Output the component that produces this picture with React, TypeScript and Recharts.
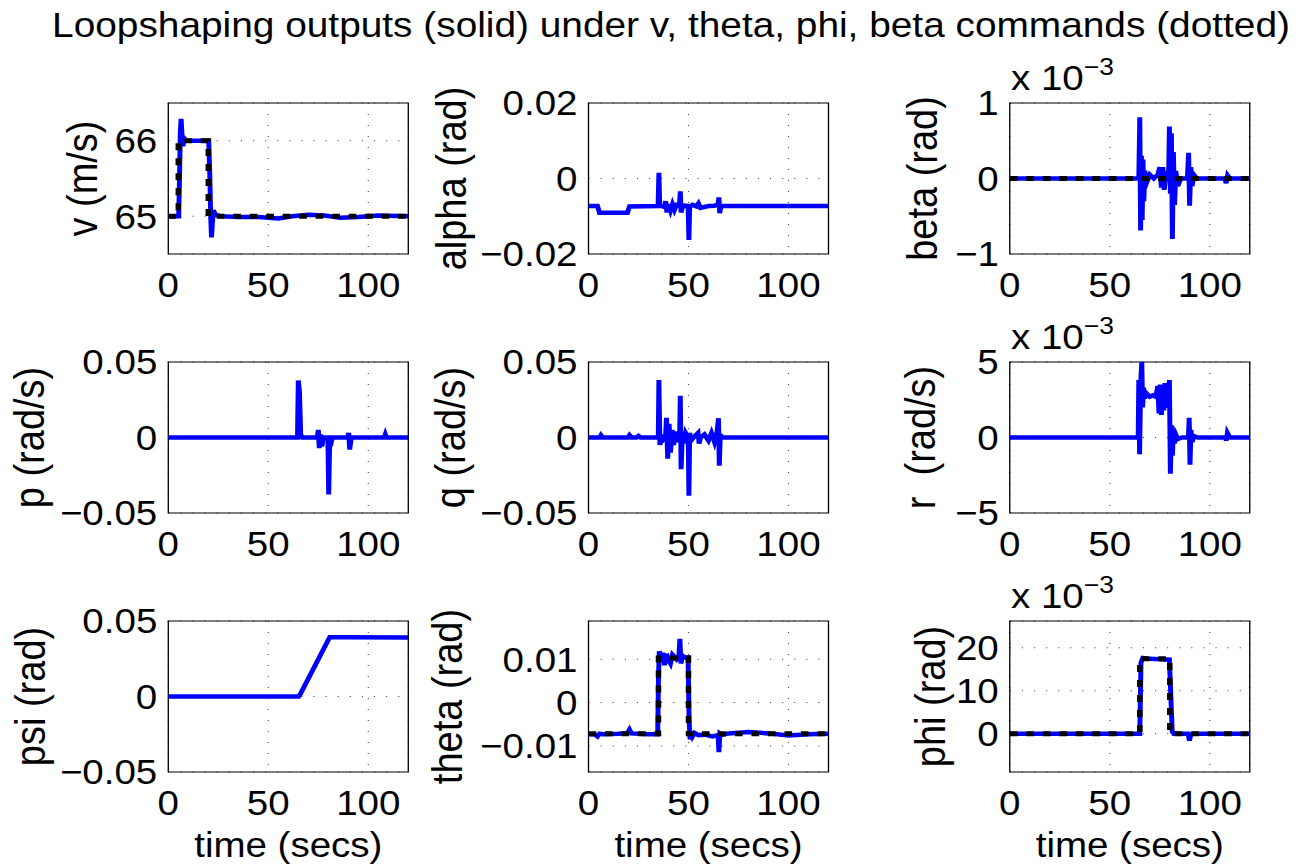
import { LineChart, Line, XAxis, YAxis, CartesianGrid, ReferenceArea } from 'recharts';

// time axis (secs)
const timeTicks = [0, 50, 100];

// v (m/s)
const vT = [0, 5.2, 5.6, 6.0, 6.4, 6.8, 7.3, 8.0, 9, 12, 16, 20.2, 20.7, 21.2, 21.6, 22.0, 22.6, 23.5, 26, 35, 45, 55, 62, 70, 78, 86, 95, 105, 120];
const vOut = [65, 65, 65.5, 66.1, 66.29, 66.1, 65.93, 66.03, 66.0, 66.0, 66.0, 66.0, 65.6, 65.0, 64.72, 64.9, 65.08, 65.02, 65.0, 64.99, 64.99, 64.97, 65.0, 65.02, 65.01, 64.98, 64.99, 65.01, 65.0];
const vCmdT = [0, 5, 5, 20, 20, 120];
const vCmd = [65, 65, 66, 66, 65, 65];

// alpha (rad)
const alphaT = [0, 4.5, 5.5, 19.5, 20.5, 34.8, 35.2, 35.6, 36.5, 38, 38.6, 39.2, 40, 41, 42, 43, 44, 45.5, 45.9, 46.3, 47, 48, 49.8, 50.2, 50.6, 52, 54, 55, 56, 60, 63, 64.8, 65.2, 65.6, 66.2, 70, 120];
const alphaOut = [-0.0073, -0.0073, -0.0091, -0.0091, -0.0074, -0.0073, 0.0015, -0.0072, -0.0073, -0.0075, -0.006, -0.009, -0.0068, -0.0085, -0.0068, -0.0083, -0.007, -0.0072, -0.0034, -0.009, -0.0075, -0.0072, -0.0073, -0.0163, -0.0075, -0.007, -0.0074, -0.0066, -0.0078, -0.0073, -0.0072, -0.0068, -0.005, -0.0092, -0.0073, -0.0073, -0.0073];

// beta (x 10^-3 rad)
const betaT = [0, 64.5, 65.0, 65.4, 65.8, 66.2, 66.6, 67.0, 67.5, 68.5, 70, 72, 74, 75, 75.8, 76.5, 77.2, 78, 79.4, 79.8, 80.3, 80.8, 81.3, 81.8, 82.4, 83, 84, 85.5, 88.8, 89.4, 89.9, 90.5, 91.2, 92, 93.5, 107.5, 108.2, 108.9, 110, 120];
const betaOut = [0, 0, 0.81, -0.69, 0.3, -0.55, 0.25, -0.3, 0.1, -0.05, 0.05, 0, 0.05, 0.15, -0.12, 0.15, -0.15, 0.05, 0, 0.69, -0.2, 0.6, -0.8, 0.35, -0.35, 0.1, -0.1, 0, 0, 0.34, -0.36, 0.15, -0.1, 0.05, 0, 0, -0.06, 0.04, 0, 0];
const betaCmdT = [0, 120];
const betaCmd = [0, 0];

// p (rad/s)
const pT = [0, 64.6, 65.0, 65.6, 66.2, 67, 74.5, 75, 75.5, 76.2, 76.8, 77.5, 79.8, 80.2, 80.7, 81.5, 82, 89.8, 90.2, 90.7, 91.5, 108, 108.5, 109, 120];
const pOut = [0, 0, 0.0377, 0.03, 0.002, 0, 0, 0.005, -0.007, 0.002, -0.006, 0, 0, -0.0378, -0.002, -0.003, 0, 0, 0.003, -0.008, 0, 0, 0.002, 0, 0];

// q (rad/s)
const qT = [0, 5.5, 6.2, 7, 19.8, 20.5, 21.5, 24, 25, 26, 34.9, 35.2, 35.7, 36.3, 37, 38.5, 39, 39.6, 40.3, 41, 41.8, 42.6, 43.4, 44.5, 45.6, 45.9, 46.3, 47, 47.8, 48.6, 49.9, 50.2, 50.6, 51.3, 52.5, 54.8, 55.3, 56, 58, 60, 61.5, 63, 64.3, 65.0, 65.4, 65.9, 66.6, 70, 120];
const qOut = [0, 0, 0.0015, 0, 0, 0.0015, 0, 0, 0.001, 0, 0, 0.038, -0.005, 0.002, -0.002, 0, 0.013, -0.014, 0.009, -0.01, 0.005, -0.005, 0.004, -0.003, 0.002, 0.0277, -0.021, 0.004, -0.004, 0.003, 0, -0.0385, 0.003, -0.002, 0, 0.003, -0.004, 0, 0.002, -0.002, 0.003, -0.003, 0.004, 0.0128, -0.0187, 0.002, 0, 0, 0];

// r (x 10^-3 rad/s)
const rT = [0, 64.2, 64.5, 64.9, 65.4, 66.0, 66.4, 66.9, 67.5, 68.5, 70, 71.5, 73, 74, 74.6, 75.2, 75.8, 76.4, 77, 77.6, 78.2, 79, 79.8, 80.3, 80.8, 81.3, 81.8, 82.3, 83, 84, 86, 89.3, 89.7, 90.1, 90.6, 91.2, 92, 94, 107.8, 108.3, 108.8, 110, 120];
const rOut = [0, 0, 3.8, -1.1, 3.5, 5.0, 2.0, 3.3, 2.6, 2.9, 2.7, 2.8, 2.7, 3.4, 1.6, 3.5, 1.5, 3.2, 1.8, 3.6, 2.2, 2.0, 3.8, -2.4, 0.8, -1.2, 0.5, -0.4, 0.2, -0.1, 0, 0, 1.3, -1.8, 0.5, -0.3, 0.1, 0, 0, -0.2, 0.3, 0, 0];

// psi (rad)
const psiT = [0, 65.2, 66, 80.2, 80.7, 90, 120];
const psiOut = [0, 0, 0.0015, 0.038, 0.0392, 0.0392, 0.0391];

// theta (rad)
const thetaT = [0, 3, 4.5, 5.5, 7, 15, 19.5, 20.5, 21.5, 30, 34.6, 35.0, 35.4, 36.5, 37.2, 38, 39, 40, 41, 42, 43, 44, 45.2, 45.7, 46.2, 47, 48, 49.8, 50.3, 50.8, 51.3, 52, 53, 55, 58, 62, 64.8, 65.2, 65.7, 66.5, 70, 80, 90, 100, 110, 120];
const thetaOut = [-0.0073, -0.0073, -0.0078, -0.0072, -0.0073, -0.0072, -0.007, -0.0062, -0.0071, -0.0073, -0.0073, 0.006, 0.0118, 0.01, 0.0115, 0.0086, 0.0112, 0.0098, 0.009, 0.011, 0.0105, 0.01, 0.0108, 0.0147, 0.009, 0.0108, 0.0104, 0.0104, -0.004, -0.0085, -0.0068, -0.0078, -0.007, -0.0075, -0.0074, -0.0078, -0.0075, -0.0114, -0.0072, -0.0075, -0.0071, -0.0068, -0.0071, -0.0076, -0.0073, -0.0072];
const thetaCmdT = [0, 35, 35, 50, 50, 120];
const thetaCmd = [-0.0072, -0.0072, 0.0103, 0.0103, -0.0072, -0.0072];

// phi (x 10^-3 rad)
const phiT = [0, 65, 65.6, 66.5, 70, 75, 79.8, 80.5, 81.2, 82, 89.2, 89.8, 90.5, 92, 120];
const phiOut = [0, 0, 16.5, 17.6, 17.4, 17.3, 17.2, 9, 0.5, 0, 0, -1.6, -0.2, 0, 0];
const phiCmdT = [0, 65, 65, 80, 80, 120];
const phiCmd = [0, 0, 17.45, 17.45, 0, 0];

const FONT = '"Liberation Sans", Arial, Helvetica, sans-serif';
const SX = 1.1; // the figure is a bit wider than tall
const COL_LEFT = [168, 589, 1010];
const ROW_TOP = [103, 362, 621];
const BOX_W = 240;
const BOX_H = 151;
const Y_AXIS_W = 150;
const M_TOP = 30;
const M_RIGHT = 10;

const zip = (t: number[], y: number[]) => t.map((tt, i) => ({ t: tt, y: y[i] }));
const fmt = (v: number) => String(v).replace('-', '\u2212');

interface PanelProps {
  row: number;
  col: number;
  out: { t: number; y: number }[];
  cmd?: { t: number; y: number }[];
  domain: [number, number];
  ticks: number[];
  label: string;
  labelX: number;
}

function Panel({ row, col, out, cmd, domain, ticks, label, labelX }: PanelProps) {
  const bottom = row === 2;
  const xAxisH = bottom ? 95 : 60;
  const width = Y_AXIS_W + BOX_W / SX + M_RIGHT;
  const height = M_TOP + BOX_H + xAxisH;
  const left = COL_LEFT[col] / SX - Y_AXIS_W;
  const top = ROW_TOP[row] - M_TOP;
  const textStyle = { fontSize: 35, fill: '#000', fontFamily: FONT };
  return (
    <div style={{ position: 'absolute', left, top }}>
      <LineChart width={width} height={height} margin={{ top: M_TOP, right: M_RIGHT, left: 0, bottom: 0 }}>
        <CartesianGrid stroke="#444" strokeDasharray="1 10" />
        <XAxis
          dataKey="t"
          type="number"
          domain={[0, 120]}
          ticks={timeTicks}
          interval={0}
          allowDataOverflow
          axisLine={false}
          tickLine={false}
          tickSize={0}
          tickMargin={18}
          height={xAxisH}
          tick={textStyle}
          label={bottom ? { value: 'time (secs)', position: 'insideBottom', offset: 10, style: textStyle } : undefined}
        />
        <YAxis
          type="number"
          domain={domain}
          ticks={ticks}
          interval={0}
          allowDataOverflow
          axisLine={false}
          tickLine={false}
          tickSize={0}
          tickMargin={10}
          width={Y_AXIS_W}
          tick={textStyle}
          tickFormatter={fmt}
          label={{
            value: label,
            angle: -90,
            position: 'insideLeft',
            offset: (labelX - COL_LEFT[col]) / SX + Y_AXIS_W,
            style: { ...textStyle, fontSize: 38, textAnchor: 'middle', whiteSpace: 'pre' },
          }}
        />
        <ReferenceArea x1={0} x2={120} y1={domain[0]} y2={domain[1]} fill="none" stroke="#000" strokeWidth={1.2} ifOverflow="visible" />
        <Line data={out} dataKey="y" type="linear" stroke="#0000ff" strokeWidth={4.5} dot={false} isAnimationActive={false} />
        {cmd && (
          <Line data={cmd} dataKey="y" type="linear" stroke="#000" strokeWidth={5} strokeDasharray="7 8" dot={false} isAnimationActive={false} />
        )}
      </LineChart>
    </div>
  );
}

function Exponent({ row, col }: { row: number; col: number }) {
  return (
    <text x={(COL_LEFT[col] + 1) / SX} y={ROW_TOP[row] - 12.5} fontSize={35} fontFamily={FONT} fill="#000">
      x 10
      <tspan dy={-15} fontSize={24}>{'\u22123'}</tspan>
    </text>
  );
}

export default function App() {
  const W = 1308 / SX;
  return (
    <div style={{ position: 'absolute', left: 0, top: 0, width: 1308, height: 867, background: '#fff', overflow: 'hidden' }}>
      <div style={{ position: 'absolute', left: 0, top: 0, width: W, height: 867, transform: `scaleX(${SX})`, transformOrigin: '0 0' }}>
        <Panel row={0} col={0} out={zip(vT, vOut)} cmd={zip(vCmdT, vCmd)} domain={[64.5, 66.5]} ticks={[65, 66]} label="v (m/s)" labelX={82} />
        <Panel row={0} col={1} out={zip(alphaT, alphaOut)} domain={[-0.02, 0.02]} ticks={[-0.02, 0, 0.02]} label="alpha (rad)" labelX={452} />
        <Panel row={0} col={2} out={zip(betaT, betaOut)} cmd={zip(betaCmdT, betaCmd)} domain={[-1, 1]} ticks={[-1, 0, 1]} label="beta (rad)" labelX={922} />
        <Panel row={1} col={0} out={zip(pT, pOut)} domain={[-0.05, 0.05]} ticks={[-0.05, 0, 0.05]} label="p (rad/s)" labelX={29} />
        <Panel row={1} col={1} out={zip(qT, qOut)} domain={[-0.05, 0.05]} ticks={[-0.05, 0, 0.05]} label="q (rad/s)" labelX={451} />
        <Panel row={1} col={2} out={zip(rT, rOut)} domain={[-5, 5]} ticks={[-5, 0, 5]} label={'r\u00a0 (rad/s)'} labelX={920} />
        <Panel row={2} col={0} out={zip(psiT, psiOut)} domain={[-0.05, 0.05]} ticks={[-0.05, 0, 0.05]} label="psi (rad)" labelX={30} />
        <Panel row={2} col={1} out={zip(thetaT, thetaOut)} cmd={zip(thetaCmdT, thetaCmd)} domain={[-0.016, 0.0188]} ticks={[-0.01, 0, 0.01]} label="theta (rad)" labelX={448} />
        <Panel row={2} col={2} out={zip(phiT, phiOut)} cmd={zip(phiCmdT, phiCmd)} domain={[-8.9, 26.2]} ticks={[0, 10, 20]} label="phi (rad)" labelX={930} />
        <svg width={W} height={867} style={{ position: 'absolute', left: 0, top: 0, pointerEvents: 'none' }}>
          <text x={671 / SX} y={37} fontSize={35.3} fontFamily={FONT} fill="#000" textAnchor="middle">
            Loopshaping outputs (solid) under v, theta, phi, beta commands (dotted)
          </text>
          <Exponent row={0} col={2} />
          <Exponent row={1} col={2} />
          <Exponent row={2} col={2} />
        </svg>
      </div>
    </div>
  );
}
